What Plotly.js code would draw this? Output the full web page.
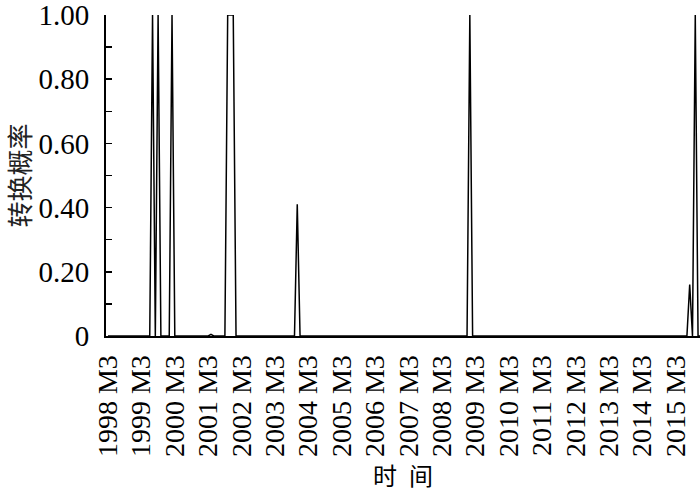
<!DOCTYPE html>
<html>
<head>
<meta charset="utf-8">
<script src="https://cdn.plot.ly/plotly-3.0.1.min.js"></script>
<style>html,body{margin:0;padding:0;background:#fff;}#chart{width:700px;height:492px;}</style>
</head>
<body>
<div id="chart"></div>
<script>
// Monthly series, 1998 M3 .. 2015 M12 (one row per year starting at M3)
const values = [
  0,0,0,0,0,0,0,0,0,0,0,0,            // 1998 M3 - 1999 M2
  0,0,0,0,1,0,1,0,0,0,0,1,            // 1999 M3 - 2000 M2
  0,0,0,0,0,0,0,0,0,0,0,0,            // 2000 M3 - 2001 M2
  0,0.005,0,0,0,0,0,1,1,1,0,0,        // 2001 M3 - 2002 M2
  0,0,0,0,0,0,0,0,0,0,0,0,            // 2002 M3 - 2003 M2
  0,0,0,0,0,0,0,0,0.41,0,0,0,         // 2003 M3 - 2004 M2
  0,0,0,0,0,0,0,0,0,0,0,0,            // 2004 M3 - 2005 M2
  0,0,0,0,0,0,0,0,0,0,0,0,            // 2005 M3 - 2006 M2
  0,0,0,0,0,0,0,0,0,0,0,0,            // 2006 M3 - 2007 M2
  0,0,0,0,0,0,0,0,0,0,0,0,            // 2007 M3 - 2008 M2
  0,0,0,0,0,0,0,0,0,0,1,0,            // 2008 M3 - 2009 M2
  0,0,0,0,0,0,0,0,0,0,0,0,            // 2009 M3 - 2010 M2
  0,0,0,0,0,0,0,0,0,0,0,0,            // 2010 M3 - 2011 M2
  0,0,0,0,0,0,0,0,0,0,0,0,            // 2011 M3 - 2012 M2
  0,0,0,0,0,0,0,0,0,0,0,0,            // 2012 M3 - 2013 M2
  0,0,0,0,0,0,0,0,0,0,0,0,            // 2013 M3 - 2014 M2
  0,0,0,0,0,0,0,0,0,0,0,0,            // 2014 M3 - 2015 M2
  0,0,0,0,0,0.16,0,1,0,0              // 2015 M3 - 2015 M12
];
const startYear = 1998, startMonth = 3;
const months = values.map((_, i) => {
  const t = startMonth - 1 + i;
  return (startYear + Math.floor(t / 12)) + ' M' + (t % 12 + 1);
});
const tickLabels = ['1998 M3','1999 M3','2000 M3','2001 M3','2002 M3','2003 M3','2004 M3','2005 M3','2006 M3',
  '2007 M3','2008 M3','2009 M3','2010 M3','2011 M3','2012 M3','2013 M3','2014 M3','2015 M3'];
const yTickVals = [0, 0.2, 0.4, 0.6, 0.8, 1.0];
const yTickText = ['0', '0.20', '0.40', '0.60', '0.80', '1.00'];

const serif = '"Times New Roman", Tinos, "Liberation Serif", "DejaVu Serif", serif';
const cjk = '"Noto Sans CJK SC"';

Plotly.newPlot('chart', [{
  x: months, y: values, type: 'scatter', mode: 'lines',
  line: {color: '#000', width: 1.5}, hoverinfo: 'skip', cliponaxis: true
}], {
  width: 700, height: 492,
  margin: {l: 106, r: 0, t: 15, b: 156, pad: 0},
  paper_bgcolor: '#fff', plot_bgcolor: '#fff',
  showlegend: false,
  xaxis: {
    type: 'category',
    range: [-0.72, 212.7],
    tickmode: 'array', tickvals: tickLabels, ticktext: tickLabels,
    tickangle: -90, ticks: '', showgrid: false, zeroline: false,
    showline: true, linecolor: '#000', linewidth: 2,
    tickfont: {family: serif, size: 28, color: '#000'},
    ticklabelstandoff: 6,
    title: {text: '时\u2002间', font: {family: cjk, size: 24, color: '#000'}, standoff: 6}
  },
  yaxis: {
    range: [0, 1], tickmode: 'array', tickvals: yTickVals, ticktext: yTickText,
    ticks: 'inside', ticklen: 6, tickwidth: 1.5, tickcolor: '#000',
    minor: {ticks: 'inside', dtick: 0.1, ticklen: 6, tickwidth: 1.5, tickcolor: '#000', showgrid: false},
    showgrid: false, zeroline: false,
    showline: true, linecolor: '#000', linewidth: 2,
    tickfont: {family: serif, size: 29, color: '#000'},
    ticklabeloverflow: 'allow',
    ticklabelstandoff: 9,
    title: {text: '转换概率', font: {family: cjk, size: 26, color: '#222'}, standoff: 8}
  }
}, {staticPlot: true, displayModeBar: false});
</script>
</body>
</html>
